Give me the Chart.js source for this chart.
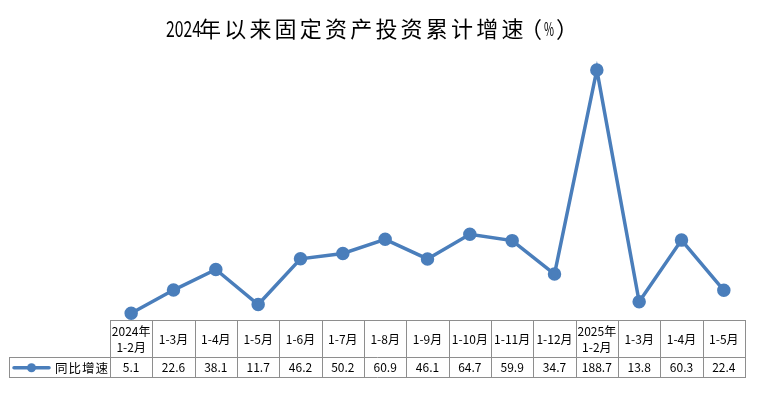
<!DOCTYPE html>
<html>
<head>
<meta charset="utf-8">
<script src="https://cdn.jsdelivr.net/npm/chart.js@4/dist/chart.umd.min.js"></script>
<style>
html,body{margin:0;padding:0;background:#fff;}
#wrap{width:759px;height:399px;position:relative;}
</style>
</head>
<body>
<div id="wrap"><canvas id="c" width="759" height="399"></canvas></div>
<script>
const titleYear = "2024";
const titleMain = "年以来固定资产投资累计增速";
const titleUnit = ["（", "%", "）"];
const seriesName = "同比增速";
const categories = [["2024年","1-2月"],"1-3月","1-4月","1-5月","1-6月","1-7月","1-8月","1-9月","1-10月","1-11月","1-12月",["2025年","1-2月"],"1-3月","1-4月","1-5月"];
const growth = [5.1,22.6,38.1,11.7,46.2,50.2,60.9,46.1,64.7,59.9,34.7,188.7,13.8,60.3,22.4];

const LINE_COLOR = "#4a7ebb";
const BORDER = "#8e8e8e";
const FONT = '"Noto Sans CJK SC", "Noto Sans", sans-serif';

function setSpacing(ctx, v) { try { ctx.letterSpacing = v; } catch(e) {} }

const tablePlugin = {
  id: 'dataTable',
  afterDraw(chart) {
    const ctx = chart.ctx;
    const xs = chart.scales.x;
    const n = categories.length;
    const left = chart.chartArea.left, right = chart.chartArea.right;
    const step = (right - left) / n;
    const top = Math.round(chart.chartArea.bottom);
    const mid = top + 37.5;
    const bot = top + 57;
    const legendLeft = 9;
    ctx.save();
    // title
    ctx.fillStyle = "#000";
    ctx.font = '22px ' + FONT;
    ctx.textBaseline = 'middle';
    ctx.textAlign = 'left';
    const ty = 29;
    setSpacing(ctx, '0px');
    ctx.fillText(titleYear, 166, ty, 35);
    setSpacing(ctx, '3.2px');
    ctx.fillText(titleMain, 199, ty);
    setSpacing(ctx, '0px');
    ctx.textAlign = 'center';
    ctx.fillText(titleUnit[0], 531, ty);
    ctx.font = '18px ' + FONT;
    ctx.fillText(titleUnit[1], 549, ty, 10);
    ctx.font = '22px ' + FONT;
    ctx.fillText(titleUnit[2], 567, ty);

    // grid lines
    ctx.textAlign = 'left';
    ctx.strokeStyle = BORDER;
    ctx.lineWidth = 1;
    ctx.beginPath();
    ctx.moveTo(left, top + 0.5); ctx.lineTo(right + 1, top + 0.5);
    ctx.moveTo(legendLeft, Math.floor(mid) + 0.5); ctx.lineTo(right + 1, Math.floor(mid) + 0.5);
    ctx.moveTo(legendLeft, bot + 0.5); ctx.lineTo(right + 1, bot + 0.5);
    for (let i = 0; i <= n; i++) {
      const x = Math.round(left + i * step) + 0.5;
      ctx.moveTo(x, top); ctx.lineTo(x, bot + 1);
    }
    ctx.moveTo(legendLeft + 0.5, Math.floor(mid)); ctx.lineTo(legendLeft + 0.5, bot + 1);
    ctx.stroke();

    // category labels & values
    ctx.fillStyle = "#000";
    ctx.font = '12px ' + FONT;
    ctx.textAlign = 'center';
    ctx.textBaseline = 'middle';
    const catMid = (top + mid) / 2 + 1;
    const valMid = (mid + bot) / 2 + 0.5;
    for (let i = 0; i < n; i++) {
      const cx = xs.getPixelForValue(i);
      const lab = categories[i];
      if (Array.isArray(lab)) {
        ctx.fillText(lab[0], cx, catMid - 8);
        ctx.fillText(lab[1], cx, catMid + 8);
      } else {
        ctx.fillText(lab, cx, catMid);
      }
      ctx.fillText(growth[i].toFixed(1), cx, valMid);
    }

    // legend key
    const ly = valMid;
    ctx.strokeStyle = LINE_COLOR;
    ctx.lineWidth = 3.5;
    ctx.lineCap = 'round';
    ctx.beginPath();
    ctx.moveTo(14, ly); ctx.lineTo(49, ly);
    ctx.stroke();
    ctx.fillStyle = LINE_COLOR;
    ctx.beginPath();
    ctx.arc(31.5, ly, 4.5, 0, Math.PI * 2);
    ctx.fill();
    ctx.fillStyle = "#000";
    ctx.textAlign = 'left';
    ctx.font = '12.5px ' + FONT;
    setSpacing(ctx, '1px');
    ctx.fillText(seriesName, 55, ly);
    setSpacing(ctx, '0px');
    ctx.restore();
  }
};

new Chart(document.getElementById('c'), {
  type: 'line',
  data: {
    labels: categories,
    datasets: [{
      label: seriesName,
      data: growth,
      borderColor: LINE_COLOR,
      backgroundColor: LINE_COLOR,
      borderWidth: 3.5,
      pointRadius: 5,
      pointHoverRadius: 5,
      pointBackgroundColor: LINE_COLOR,
      pointBorderColor: LINE_COLOR,
      tension: 0,
      clip: false
    }]
  },
  options: {
    responsive: false,
    animation: false,
    devicePixelRatio: 1,
    layout: { padding: { left: 110, right: 14, top: 55, bottom: 79 } },
    plugins: { legend: { display: false }, title: { display: false }, tooltip: { enabled: false } },
    scales: {
      x: { display: false, offset: true },
      y: { display: false, min: 0, max: 200 }
    }
  },
  plugins: [tablePlugin]
});
</script>
</body>
</html>
